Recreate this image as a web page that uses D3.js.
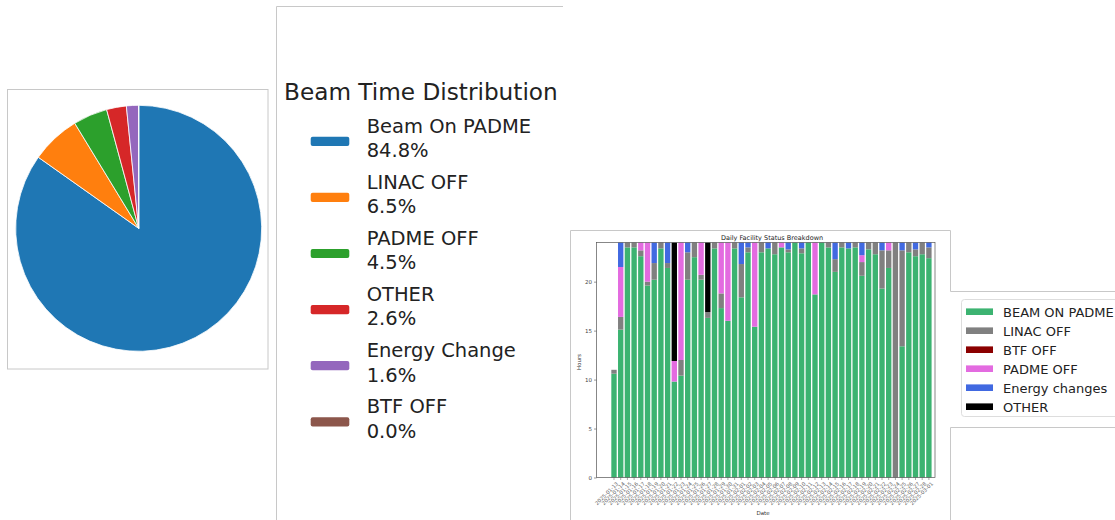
<!DOCTYPE html>
<html>
<head>
<meta charset="utf-8">
<script src="https://cdn.jsdelivr.net/npm/d3@7"></script>
<style>
  body { margin: 0; background: #fff; }
  svg { display: block; font-family: "DejaVu Sans", sans-serif; }
</style>
</head>
<body>
<svg id="chart" width="1115" height="520"></svg>
<script>
// pie shares (percent)
var pieLabels = ["Beam On PADME", "LINAC OFF", "PADME OFF", "OTHER", "Energy Change", "BTF OFF"];
var pieValues = [84.8, 6.5, 4.5, 2.6, 1.6, 0.0];
var pieColors = ["#1f77b4", "#ff7f0e", "#2ca02c", "#d62728", "#9467bd", "#8c564b"];

// daily breakdown (hours)
var dates = ["2025-01-13","2025-01-14","2025-01-15","2025-01-16","2025-01-17","2025-01-18","2025-01-19","2025-01-20",
  "2025-01-21","2025-01-22","2025-01-23","2025-01-24","2025-01-25","2025-01-26","2025-01-27","2025-01-28",
  "2025-01-29","2025-01-30","2025-01-31","2025-02-01","2025-02-02","2025-02-03","2025-02-04","2025-02-05",
  "2025-02-06","2025-02-07","2025-02-08","2025-02-09","2025-02-10","2025-02-11","2025-02-12","2025-02-13",
  "2025-02-14","2025-02-15","2025-02-16","2025-02-17","2025-02-18","2025-02-19","2025-02-20","2025-02-21",
  "2025-02-22","2025-02-23","2025-02-24","2025-02-25","2025-02-26","2025-02-27","2025-02-28","2025-03-01"];
var beamOn = [10.6,15.1,23.5,23.5,22.6,19.6,20.2,23.4,21.4,9.8,10.4,20.2,22.5,20.2,16.3,23.4,
  17.3,16.0,23.4,18.4,23.0,15.4,23.0,23.4,22.8,23.5,23.0,24,22.9,24,18.7,24,
  23.5,21.0,23.5,23.4,23.5,20.6,23.3,22.8,19.3,21.4,0,13.4,23.0,22.6,22.8,22.4];
var linacOff = [0.4,1.3,0.5,0.5,0.6,0.4,1.7,0.6,0.5,0,1.6,2.8,1.5,0.5,0.6,0.6,
  1.5,0,0.6,3.4,0.5,0,1.0,0,1.2,0,0.3,0,0.5,0,0,0,
  0.5,1.3,0.5,0,0.5,1.4,0.7,1.2,3.9,1.8,24,9.8,1.0,0.7,1.2,1.1];
var btfOff = [0,0,0,0,0,0,0,0,0,0,0,0,0,0,0,0,
  0,0,0,0,0,0,0,0,0,0,0,0,0,0,0,0,
  0,0,0,0,0,0,0,0,0,0,0,0,0,0,0,0];
var padmeOff = [0,5.1,0,0,0.8,4.0,0,0,0,2.1,12.0,0,0,3.3,0,0,
  5.2,8.0,0,0,0,8.6,0,0,0,0.5,0,0,0,0,5.3,0,
  0,0,0,0,0,0.7,0,0,0,0.8,0,0,0,0,0,0];
var energyChanges = [0,2.5,0,0,0,0,2.1,0,2.1,0,0,1.0,0,0,0,0,
  0,0,0,2.2,0.5,0,0,0.6,0,0,0.7,0,0.6,0,0,0,
  0,1.7,0,0.6,0,1.3,0,0,0.8,0,0,0.8,0,0.7,0,0.5];
var other = [0,0,0,0,0,0,0,0,0,12.1,0,0,0,0,7.1,0,
  0,0,0,0,0,0,0,0,0,0,0,0,0,0,0,0,
  0,0,0,0,0,0,0,0,0,0,0,0,0,0,0,0];
var barKeys = ["BEAM ON PADME", "LINAC OFF", "BTF OFF", "PADME OFF", "Energy changes", "OTHER"];
var barColors = ["#3cb371", "#808080", "#8b0000", "#e36be0", "#4169e1", "#000000"];
var yTicks = [0, 5, 10, 15, 20];

var svg = d3.select("#chart");
var panel = "#c8c8c8";

// ---------- pie panel ----------
var drawPie = function(){
    svg.append("rect")
        .attr("x", 7.5).attr("y", 89.5)
        .attr("width", 260.5).attr("height", 279.5)
        .attr("fill", "#fff")
        .attr("stroke", panel);

    var pie = d3.pie().sort(null).value(function(d){ return d; }).startAngle(0);
    var arc = d3.arc().innerRadius(0).outerRadius(123);

    svg.append("g")
        .attr("transform", "translate(138.7,228.3)")
        .selectAll("path")
        .data(pie(pieValues))
        .enter()
        .append("path")
        .attr("d", arc)
        .attr("fill", function(d, i){ return pieColors[i]; })
        .attr("stroke", "#fff")
        .attr("stroke-width", 0.8);
}

// ---------- pie legend panel ----------
var drawPieLegend = function(){
    svg.append("path")
        .attr("d", "M276.5,520 V6.5 H563")
        .attr("fill", "none")
        .attr("stroke", panel);

    svg.append("text")
        .attr("x", 284).attr("y", 100)
        .attr("font-size", 23.2)
        .attr("fill", "#222")
        .text("Beam Time Distribution");

    var item = svg.append("g")
        .selectAll("g")
        .data(pieLabels)
        .enter()
        .append("g")
        .attr("transform", function(d, i){ return "translate(0," + (141.3 + i * 56.1) + ")"; });

    item.append("rect")
        .attr("x", 310.7).attr("y", -4.6)
        .attr("width", 38.6).attr("height", 9.2)
        .attr("rx", 2)
        .attr("fill", function(d, i){ return pieColors[i]; });

    item.append("text")
        .attr("x", 366.7).attr("y", -8.4)
        .attr("font-size", 19.5)
        .attr("fill", "#222")
        .text(function(d){ return d; });

    item.append("text")
        .attr("x", 366.7).attr("y", 15.8)
        .attr("font-size", 19.5)
        .attr("fill", "#222")
        .text(function(d, i){ return pieValues[i].toFixed(1) + "%"; });
}

// ---------- stacked bar panel ----------
var drawBars = function(){
    var left = 596.5, right = 935, top = 242.5, bottom = 477.5;

    svg.append("path")
        .attr("d", "M570.5,520 V230.5 H950.5 V291.5 M950.5,427.5 V520")
        .attr("fill", "none")
        .attr("stroke", panel);

    var rows = dates.map(function(d, i){
        return {
            date: d,
            "BEAM ON PADME": beamOn[i],
            "LINAC OFF": linacOff[i],
            "BTF OFF": btfOff[i],
            "PADME OFF": padmeOff[i],
            "Energy changes": energyChanges[i],
            "OTHER": other[i]
        };
    });

    var x = d3.scaleBand()
        .domain(dates)
        .range([610.65, 932.25])
        .paddingInner(0.2)
        .paddingOuter(0.1);
    var y = d3.scaleLinear().domain([0, 24]).range([bottom, top]);

    var series = d3.stack().keys(barKeys)(rows);

    svg.append("g")
        .selectAll("g")
        .data(series)
        .enter()
        .append("g")
        .attr("fill", function(d, i){ return barColors[i]; })
        .selectAll("rect")
        .data(function(d){ return d; })
        .enter()
        .append("rect")
        .attr("x", function(d){ return x(d.data.date); })
        .attr("width", x.bandwidth())
        .attr("y", function(d){ return y(d[1]); })
        .attr("height", function(d){ return y(d[0]) - y(d[1]); });

    svg.append("rect")
        .attr("x", left).attr("y", top)
        .attr("width", right - left).attr("height", bottom - top)
        .attr("fill", "none")
        .attr("stroke", "#555")
        .attr("stroke-width", 0.7);

    var yAxis = svg.append("g")
        .attr("transform", "translate(" + left + ",0)")
        .call(d3.axisLeft(y).tickValues(yTicks).tickSize(2.5).tickPadding(2));
    yAxis.select(".domain").remove();
    yAxis.selectAll("line").attr("stroke", "#555").attr("stroke-width", 0.6);
    yAxis.selectAll("text").attr("font-size", 5.5).attr("fill", "#444").attr("font-family", "DejaVu Sans");

    var xAxis = svg.append("g")
        .attr("transform", "translate(0," + bottom + ")")
        .call(d3.axisBottom(x).tickSize(2.5).tickPadding(1));
    xAxis.select(".domain").remove();
    xAxis.selectAll("line").attr("stroke", "#555").attr("stroke-width", 0.5);
    xAxis.selectAll("text")
        .attr("font-size", 5.2)
        .attr("fill", "#666")
        .attr("font-family", "DejaVu Sans")
        .attr("text-anchor", "end")
        .attr("dy", "0.3em")
        .attr("transform", "translate(1,3) rotate(-45)");

    svg.append("text")
        .attr("x", 772).attr("y", 239.5)
        .attr("text-anchor", "middle")
        .attr("font-size", 6.5)
        .attr("fill", "#222")
        .text("Daily Facility Status Breakdown");

    svg.append("text")
        .attr("transform", "translate(580.5,362) rotate(-90)")
        .attr("text-anchor", "middle")
        .attr("font-size", 5.5)
        .attr("fill", "#333")
        .text("Hours");

    svg.append("text")
        .attr("x", 763).attr("y", 515)
        .attr("text-anchor", "middle")
        .attr("font-size", 5.5)
        .attr("fill", "#333")
        .text("Date");

    // legend placed outside the axes
    svg.append("path")
        .attr("d", "M950.5,291.5 H1115 M950.5,427.5 H1115")
        .attr("fill", "none")
        .attr("stroke", panel);

    svg.append("rect")
        .attr("x", 961.5).attr("y", 299.5)
        .attr("width", 160).attr("height", 117)
        .attr("rx", 3)
        .attr("fill", "#fff")
        .attr("stroke", "#ddd");

    var entry = svg.append("g")
        .selectAll("g")
        .data(barKeys)
        .enter()
        .append("g")
        .attr("transform", function(d, i){ return "translate(0," + (311.7 + i * 19) + ")"; });

    entry.append("rect")
        .attr("x", 966).attr("y", -3.3)
        .attr("width", 27).attr("height", 6.6)
        .attr("fill", function(d, i){ return barColors[i]; });

    entry.append("text")
        .attr("x", 1003).attr("y", 4.8)
        .attr("font-size", 13)
        .attr("fill", "#222")
        .text(function(d){ return d; });
}

drawPie();
drawPieLegend();
drawBars();
</script>
</body>
</html>
